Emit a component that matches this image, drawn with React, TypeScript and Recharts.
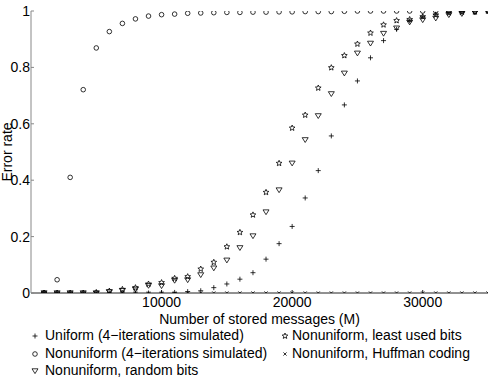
import React from 'react';
import { ScatterChart, Scatter, XAxis, YAxis } from 'recharts';

// stored messages (M)
const messages = [
  1000, 2000, 3000, 4000, 5000, 6000, 7000, 8000, 9000, 10000,
  11000, 12000, 13000, 14000, 15000, 16000, 17000, 18000, 19000, 20000,
  21000, 22000, 23000, 24000, 25000, 26000, 27000, 28000, 29000, 30000,
  31000, 32000, 33000, 34000, 35000,
];

const uniformSim = [
  0, 0, 0, 0, 0, 0, 0, 0, 0, 0,
  0.002, 0.005, 0.008, 0.019, 0.032, 0.049, 0.072, 0.12, 0.175, 0.236,
  0.337, 0.434, 0.557, 0.667, 0.752, 0.834, 0.895, 0.935, 0.965, 0.98,
  0.988, 0.994, 0.997, 0.999, 1,
];

const nonuniformSim = [
  0, 0.047, 0.41, 0.721, 0.869, 0.927, 0.956, 0.972, 0.982, 0.987,
  0.989, 0.992, 0.993, 0.994, 0.995, 0.995, 0.996, 0.996, 0.997, 0.997,
  0.998, 0.998, 0.998, 0.999, 1, 1, 1, 1, 1, 1,
  1, 1, 1, 1, 1,
];

const randomBits = [
  0, 0, 0, 0, 0, 0.004, 0.008, 0.013, 0.026, 0.025,
  0.044, 0.046, 0.064, 0.088, 0.116, 0.16, 0.202, 0.287, 0.365, 0.46,
  0.543, 0.628, 0.706, 0.779, 0.85, 0.885, 0.92, 0.939, 0.96, 0.968,
  0.974, 0.986, 0.99, 0.995, 1,
];

const leastUsedBits = [
  0, 0, 0, 0, 0.002, 0.007, 0.013, 0.019, 0.032, 0.037,
  0.052, 0.058, 0.085, 0.109, 0.164, 0.215, 0.277, 0.357, 0.46, 0.585,
  0.631, 0.727, 0.799, 0.842, 0.883, 0.922, 0.951, 0.966, 0.97, 0.98,
  0.986, 0.994, 0.996, 0.997, 1,
];

const huffman = [
  0, 0, 0, 0, 0, 0, 0, 0, 0, 0,
  0, 0, 0, 0, 0, 0, 0, 0, 0, 0,
  0, 0, 0, 0, 0, 0, 0, 0, 0, 0,
  0, 0, 0, 0, 0,
];

const xTicks = [10000, 20000, 30000];
const yTicks = [0, 0.2, 0.4, 0.6, 0.8, 1];

const FONT = '"Liberation Sans", Arial, Helvetica, sans-serif';
const INK = '#000';

type MarkProps = { cx?: number; cy?: number };

const Plus = ({ cx = 0, cy = 0 }: MarkProps) => (
  <path d={`M${cx - 2.5},${cy}H${cx + 2.5}M${cx},${cy - 2.5}V${cy + 2.5}`} stroke={INK} strokeWidth={0.8} fill="none" />
);

const Ring = ({ cx = 0, cy = 0 }: MarkProps) => (
  <circle cx={cx} cy={cy} r={2.3} stroke={INK} strokeWidth={0.8} fill="none" />
);

const TriDown = ({ cx = 0, cy = 0 }: MarkProps) => (
  <path d={`M${cx - 3},${cy - 2.2}L${cx + 3},${cy - 2.2}L${cx},${cy + 2.6}Z`} stroke={INK} strokeWidth={0.8} fill="none" />
);

const starPath = (cx: number, cy: number, r: number) => {
  let d = '';
  for (let i = 0; i < 10; i++) {
    const rad = i % 2 === 0 ? r : r * 0.45;
    const a = -Math.PI / 2 + (i * Math.PI) / 5;
    d += `${i === 0 ? 'M' : 'L'}${cx + rad * Math.cos(a)},${cy + rad * Math.sin(a)}`;
  }
  return d + 'Z';
};

const Star = ({ cx = 0, cy = 0 }: MarkProps) => (
  <path d={starPath(cx, cy, 3)} stroke={INK} strokeWidth={0.8} fill="none" />
);

const Cross = ({ cx = 0, cy = 0 }: MarkProps) => (
  <path d={`M${cx - 1.6},${cy - 1.6}L${cx + 1.6},${cy + 1.6}M${cx - 1.6},${cy + 1.6}L${cx + 1.6},${cy - 1.6}`} stroke={INK} strokeWidth={0.8} fill="none" />
);

const series = [
  { name: 'Uniform (4\u2212iterations simulated)', values: uniformSim, Mark: Plus },
  { name: 'Nonuniform (4\u2212iterations simulated)', values: nonuniformSim, Mark: Ring },
  { name: 'Nonuniform, random bits', values: randomBits, Mark: TriDown },
  { name: 'Nonuniform, least used bits', values: leastUsedBits, Mark: Star },
  { name: 'Nonuniform, Huffman coding', values: huffman, Mark: Cross },
];

const toPoints = (values: number[]) => messages.map((m, i) => ({ x: m, y: values[i] }));

const tickStyle = { fill: INK, fontSize: 14, fontFamily: FONT };

// legend slots (two columns, filled column by column)
const legendSlots = [
  { left: 29, top: 327, gap: 4 },
  { left: 29, top: 345, gap: 4 },
  { left: 29, top: 362, gap: 4 },
  { left: 279, top: 327, gap: 1 },
  { left: 279, top: 345, gap: 1 },
];

export default function App() {
  return (
    <div style={{ position: 'relative', width: 491, height: 378, background: '#fff' }}>
      <style>{'body{margin:0}'}</style>
      <ScatterChart width={491} height={378} margin={{ top: 11, right: 3, bottom: 45, left: 0 }}>
        <XAxis
          type="number"
          dataKey="x"
          domain={[0, 35000]}
          ticks={xTicks}
          allowDataOverflow
          height={40}
          tickSize={-3}
          tickMargin={7}
          stroke="#222"
          tick={tickStyle}
          label={{ value: 'Number of stored messages (M)', position: 'insideTop', offset: 21, style: { fill: INK, fontSize: 14, fontFamily: FONT } }}
        />
        <XAxis
          xAxisId="top"
          orientation="top"
          type="number"
          domain={[0, 35000]}
          ticks={xTicks}
          height={0}
          tickSize={-3}
          tick={false}
          stroke="#222"
        />
        <YAxis
          type="number"
          dataKey="y"
          domain={[0, 1]}
          ticks={yTicks}
          allowDataOverflow
          width={31}
          tickSize={-3}
          tickMargin={4}
          stroke="#888"
          tick={tickStyle}
        />
        <YAxis
          yAxisId="right"
          orientation="right"
          type="number"
          domain={[0, 1]}
          ticks={yTicks}
          width={0}
          tickSize={-3}
          tick={false}
          stroke="#888"
        />
        {series.map((s) => (
          <Scatter
            key={s.name}
            name={s.name}
            data={toPoints(s.values)}
            shape={(p: MarkProps) => <s.Mark cx={p.cx} cy={p.cy} />}
            isAnimationActive={false}
          />
        ))}
      </ScatterChart>
      <svg width={20} height={378} style={{ position: 'absolute', left: 0, top: 0 }}>
        <text
          transform="translate(12,152) rotate(-90)"
          textAnchor="middle"
          fill={INK}
          fontSize={14}
          fontFamily={FONT}
        >
          Error rate
        </text>
      </svg>
      {series.map((s, i) => (
        <div
          key={s.name}
          style={{
            position: 'absolute',
            left: legendSlots[i].left,
            top: legendSlots[i].top,
            display: 'flex',
            alignItems: 'center',
            fontFamily: FONT,
            fontSize: 14,
            lineHeight: '17px',
            color: INK,
            whiteSpace: 'nowrap',
          }}
        >
          <svg width={12} height={12} style={{ marginRight: legendSlots[i].gap }}>
            <s.Mark cx={6} cy={6} />
          </svg>
          {s.name}
        </div>
      ))}
    </div>
  );
}
